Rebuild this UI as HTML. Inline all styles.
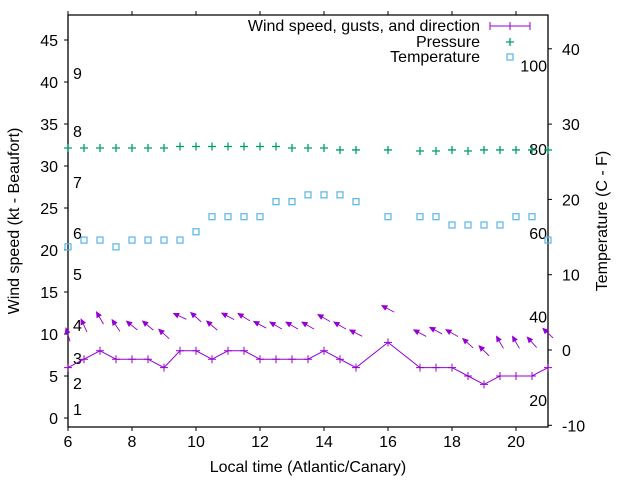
<!DOCTYPE html>
<html><head><meta charset="utf-8"><style>
body{margin:0;background:#fff}
svg{display:block;font-family:"Liberation Sans",sans-serif;font-size:16px}
</style></head><body>
<svg id="chart" width="640" height="480" viewBox="0 0 640 480" xmlns="http://www.w3.org/2000/svg">
<g id="axes"></g>
<g id="marks"></g>
<text x="308" y="472" text-anchor="middle">Local time (Atlantic/Canary)</text>
<text transform="translate(19,221) rotate(-90)" text-anchor="middle">Wind speed (kt - Beaufort)</text>
<text transform="translate(607,221) rotate(-90)" text-anchor="middle">Temperature (C - F)</text>
<g>
<text x="480" y="31" text-anchor="end">Wind speed, gusts, and direction</text>
<path d="M490 26H530M490 22V30M530 22V30M510 22V30" stroke="#9400d3" fill="none"/>
<text x="480" y="47" text-anchor="end">Pressure</text>
<path d="M506 42H514M510 38V46" stroke="#009e73" stroke-width="1.3"/>
<text x="480" y="62" text-anchor="end">Temperature</text>
<rect x="507" y="54" width="6" height="6" fill="none" stroke="#56b4e9" stroke-width="1.2"/>
</g>
</svg>
<script>
const times=[6,6.5,7,7.5,8,8.5,9,9.5,10,10.5,11,11.5,12,12.5,13,13.5,14,14.5,15,16,17,17.5,18,18.5,19,19.5,20,20.5,21];
const windSpeed=[6,7,8,7,7,7,6,8,8,7,8,8,7,7,7,7,8,7,6,9,6,6,6,5,4,5,5,5,6];
const gusts=[9.9,11.0,11.9,11.0,11.0,11.0,10.0,12.1,12.0,11.0,12.1,12.0,11.1,11.0,11.0,11.0,11.9,11.0,10.1,13.0,10.1,10.4,10.1,8.9,8.0,9.0,9.0,9.0,10.1];
const windDir=[343,335,330,326,309,310,312,295,312,310,298,302,298,300,300,300,300,300,297,298,298,298,300,312,315,330,330,318,313];
const pressure=[1018,1018,1018,1018,1018,1018,1018,1019,1019,1019,1019,1019,1019,1019,1018,1018,1018,1016.7,1016.7,1016.7,1016,1016,1016.7,1016,1016.7,1016.7,1016.7,1016.7,1016.7];
const temperature=[13.7,14.6,14.6,13.7,14.6,14.6,14.6,14.6,15.7,17.7,17.7,17.7,17.7,19.7,19.7,20.6,20.6,20.6,19.7,17.7,17.7,17.7,16.6,16.6,16.6,16.6,17.7,17.7,14.6];
const xTicks=[6,8,10,12,14,16,18,20];
const yLeftTicks=[0,5,10,15,20,25,30,35,40,45];
const yRightTicks=[-10,0,10,20,30,40];
const beaufort=[[1,409],[2,383],[3,358],[4,325],[5,274],[6,233],[7,182],[8,131],[9,73]];
const fahrenheit=[20,40,60,80,100];

const L=68,R=548,T=15,B=427;
const X=t=>L+(t-6)*(R-L)/15;
const YL=v=>418-v*(418-40)/45;
const YR=c=>350-c*7.53;
const YP=p=>148-(p-1018)*1.5;
const YF=f=>YR((f-32)*5/9);
const NS="http://www.w3.org/2000/svg";
function mk(tag,attrs,parent,txt){const e=document.createElementNS(NS,tag);for(const k in attrs)e.setAttribute(k,attrs[k]);if(txt!==undefined)e.textContent=txt;parent.appendChild(e);return e;}
const ax=document.getElementById('axes'),mg=document.getElementById('marks');
let e=mk('path',{d:`M${L} ${T}H${R}V${B}H${L}Z`,fill:'none',stroke:'#000','stroke-width':1.3},ax);


xTicks.forEach(t=>{
 let p=mk('path',{d:`M${X(t)} ${B}v4M${X(t)} ${T}v-4`,stroke:'#000'},ax);
 
 
 let s=mk('text',{x:X(t),y:447,'text-anchor':'middle'},ax,String(t));
 
 
});
yLeftTicks.forEach(v=>{
 let p=mk('path',{d:`M${L} ${YL(v)}h-4`,stroke:'#000'},ax);
 
 
 let s=mk('text',{x:58,y:YL(v)+6,'text-anchor':'end'},ax,String(v));
 
 
});
yRightTicks.forEach(v=>{
 let p=mk('path',{d:`M${R} ${YR(v)}h4`,stroke:'#000'},ax);
 
 
 let s=mk('text',{x:562,y:YR(v)+6},ax,String(v));
 
 
});
beaufort.forEach(b=>{
 let s=mk('text',{x:73,y:b[1]+6},ax,String(b[0]));
 
 
});
fahrenheit.forEach(f=>{
 let s=mk('text',{x:547,y:YF(f)+6,'text-anchor':'end'},ax,String(f));
 
 
});
let d=times.map((t,i)=>(i?'L':'M')+X(t)+' '+YL(windSpeed[i])).join('');
e=mk('path',{d:d,fill:'none',stroke:'#9400d3','stroke-width':1},mg);


times.forEach((t,i)=>{
 const x=X(t),y=YL(windSpeed[i]);
 let p=mk('path',{d:`M${x-4} ${y}H${x+4}M${x} ${y-4}V${y+4}`,stroke:'#9400d3'},mg);
 
 
 const a=windDir[i]*Math.PI/180,len=14;
 const ux=Math.sin(a),uy=-Math.cos(a);
 const cx=x,cy=YL(gusts[i]);
 const hx=cx+ux*len/2,hy=cy+uy*len/2,tx=cx-ux*len/2,ty=cy-uy*len/2;
 const bx=hx-ux*5,by=hy-uy*5,px=-uy,py=ux;
 let ar=mk('path',{d:`M${tx} ${ty}L${hx} ${hy}M${hx} ${hy}L${bx+px*2.3} ${by+py*2.3}L${bx-px*2.3} ${by-py*2.3}Z`,stroke:'#9400d3',fill:'#9400d3','stroke-width':0.9},mg);
 
 
 const yp=YP(pressure[i]);
 let pp=mk('path',{d:`M${x-4} ${yp}H${x+4}M${x} ${yp-4}V${yp+4}`,stroke:'#009e73','stroke-width':1.3},mg);
 
 
 const yt=YR(temperature[i]);
 let r=mk('rect',{x:x-3,y:yt-3,width:6,height:6,fill:'none',stroke:'#56b4e9','stroke-width':1.2},mg);
 
 
});
</script>
</body></html>
